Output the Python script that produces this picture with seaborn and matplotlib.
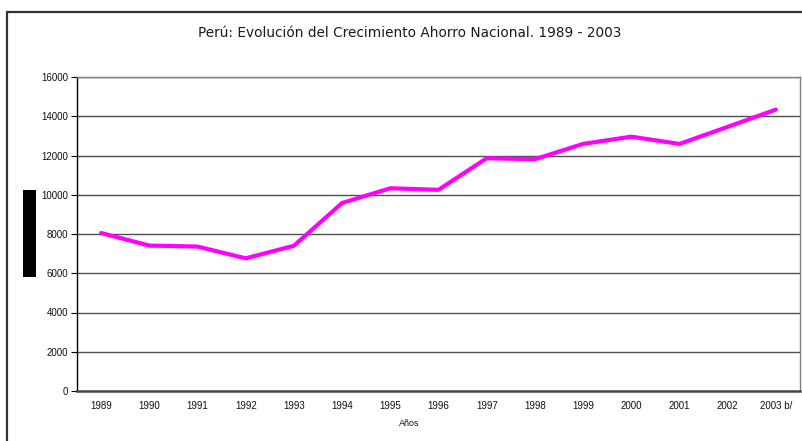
import numpy as np
import pandas as pd
import matplotlib
matplotlib.use("Agg")
import matplotlib.pyplot as plt
from matplotlib.patches import Rectangle
import seaborn as sns

years = ["1989", "1990", "1991", "1992", "1993", "1994", "1995", "1996",
         "1997", "1998", "1999", "2000", "2001", "2002", "2003 b/"]
ahorro = [8050, 7410, 7360, 6760, 7400, 9580, 10330, 10250,
          11860, 11810, 12590, 12960, 12590, 13460, 14340]
yticks = [0, 2000, 4000, 6000, 8000, 10000, 12000, 14000, 16000]
title = "Perú: Evolución del Crecimiento Ahorro Nacional. 1989 - 2003"
xlabel = "Años"

sns.set_style("white")
plt.rcParams['font.family'] = ['Liberation Sans', 'DejaVu Sans']

W, H = 803, 441
fig = plt.figure(figsize=(W / 100, H / 100), dpi=100)
ax = fig.add_axes([77 / W, 1 - 391 / H, (800 - 77) / W, (391 - 77) / H])

df = pd.DataFrame({"pos": np.arange(len(years)), "val": ahorro})
sns.lineplot(data=df, x="pos", y="val", ax=ax, color="#FF00FF", linewidth=3.0)

ax.set_xlim(-0.5, len(years) - 0.5)
ax.set_ylim(0, 16000)
ax.set_yticks(yticks)
ax.set_yticklabels([str(v) for v in yticks], fontsize=7, color="#111111")
ax.set_xticks(np.arange(len(years)))
ax.set_xticklabels(years, fontsize=7, color="#111111")
ax.set_xticks(np.arange(len(years) + 1) - 0.5, minor=True)
ax.tick_params(axis="x", which="major", length=0, pad=7)
ax.tick_params(axis="x", which="minor", length=3, width=0.8, color="#333333", direction="out")
ax.tick_params(axis="y", which="major", length=4, width=0.8, color="black", direction="out", pad=2.5, left=True)
ax.set_xlabel(xlabel, fontsize=6.5, color="#111111")
ax.xaxis.set_label_coords(0.46, -0.088)
ax.set_ylabel("")

for y in yticks[1:]:
    ax.axhline(y, color="#505050", linewidth=1.0, zorder=0)

ax.spines["left"].set_color("black")
ax.spines["left"].set_linewidth(1.0)
ax.spines["bottom"].set_color("#444444")
ax.spines["bottom"].set_linewidth(1.8)
ax.spines["top"].set_color("#808080")
ax.spines["top"].set_linewidth(1.0)
ax.spines["right"].set_color("#808080")
ax.spines["right"].set_linewidth(1.0)
for s in ax.spines.values():
    s.set_visible(True)

fig.text(410 / W, 1 - 33 / H, title, ha="center", va="center",
         fontsize=9.8, family=["DejaVu Sans"], color="#1a1a1a")

# outer chart frame (extends beyond the right/bottom edges)
fig.patches.append(Rectangle((7 / W, -0.1), 1.2, 1 - 12 / H + 0.1,
                             transform=fig.transFigure, fill=False,
                             edgecolor="#333333", linewidth=1.6))
# black block on the left
fig.patches.append(Rectangle((23 / W, 1 - 277 / H), 13 / W, 87 / H,
                             transform=fig.transFigure, facecolor="black",
                             edgecolor="none"))

fig.savefig("out.png", dpi=100)
